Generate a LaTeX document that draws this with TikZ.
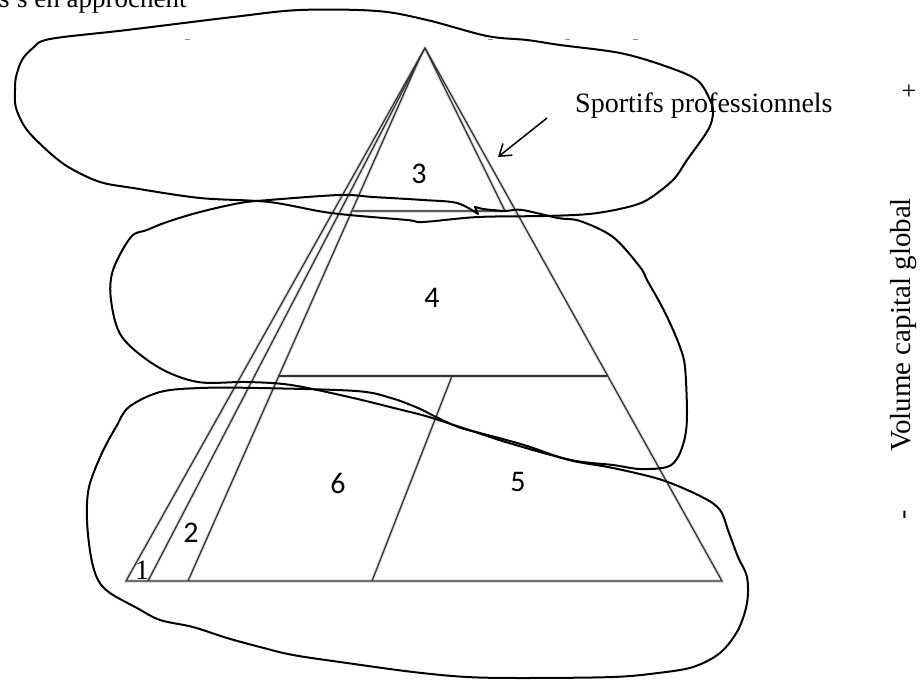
\documentclass[tikz,border=0pt]{standalone}
\usepackage{fontspec}
\setmainfont{Liberation Serif}
\newfontfamily\numfont{Carlito}
\usetikzlibrary{arrows.meta}
\begin{document}
\begin{tikzpicture}[x=1pt,y=-1pt,
  pyr/.style={draw=black!80, line width=1.3pt},
  pyrthick/.style={draw=black!65, line width=2.4pt},
  blob/.style={draw=black, line width=2pt, line join=round, line cap=round},
  shade/.style={draw=black!12, line width=3.5pt, line join=round},
  lbl/.style={inner sep=0pt, font=\numfont\fontsize{30}{32}\selectfont},
  lblserif/.style={inner sep=0pt, font=\fontsize{28}{30}\selectfont},
  tick/.style={draw=black!45, line width=1pt},
]
\useasboundingbox (0,0) rectangle (922,680);

% ---------- key points of the pyramid ----------
\coordinate (apex) at (425,48);
\coordinate (apexB) at (421,55);
\coordinate (bl) at (126,581);
\coordinate (bA) at (148,581);
\coordinate (bB) at (188,581);
\coordinate (bD) at (372,581);
\coordinate (br) at (722,581);
\coordinate (s3l) at (352,211);
\coordinate (s3r) at (505,211);
\coordinate (h4l) at (278,376);
\coordinate (h4r) at (607,376);
\coordinate (h4d) at (452,376);

% ---------- shadows ----------
\begin{scope}[shift={(1.5,2.5)}]
\draw[shade] (apex) -- (bl) -- (br) -- cycle;
\draw[shade] (apex) -- (bA);
\draw[shade] (apexB) -- (bB);
\draw[shade] (apex) -- (s3r) -- (s3l);
\draw[shade] (h4l) -- (h4r);
\draw[shade] (h4d) -- (bD);
\end{scope}

% ---------- pyramid ----------
\draw[pyr] (apex) -- (bl) -- (br) -- cycle;
\draw[pyr] (apex) -- (bA);
\draw[pyr] (apexB) -- (bB);
\draw[pyr] (apex) -- (s3r);
\draw[pyrthick] (s3l) -- (s3r);
\draw[pyr] (h4l) -- (h4r);
\draw[pyr] (h4d) -- (bD);

% ---------- hand drawn blobs ----------
% top blob
\draw[blob] plot[smooth cycle, tension=0.55] coordinates {
 (127,30) (233,17) (300,10) (377,11) (427,20) (487,36) (527,40) (560,45)
 (620,53) (665,66) (697,80) (710,100) (713,113) (708,130) (687,160) (673,180)
 (647,200) (624,208) (589,214) (544,216) (478,217) (423,222) (407,220) (331,213)
 (269,202) (200,198) (133,188) (100,182) (70,168) (50,153) (27,130) (16,108)
 (15,90) (16,77) (22,60) (33,48) (50,39)};

% middle blob
\draw[blob] plot[smooth, tension=0.55] coordinates {
 (483,209) (504,211) (522,210) (558,218) (580,221) (613,237) (640,267) (647,280)
 (660,303) (670,323) (680,347) (685,367) (687,413) (685,437) (678,457) (667,467)
 (640,469) (613,465) (571,460) (509,443) (469,430) (429,417) (402,410) (349,397)
 (291,385) (247,382) (198,382) (158,367) (122,337) (111,300) (113,270) (131,237)
 (147,230) (167,222) (200,212) (240,203) (269,200) (340,195) (373,197) (423,200)
 (457,203) (478,214)}
 -- (475,207) -- (483,209);

% lower blob
\draw[blob] plot[smooth cycle, tension=0.55] coordinates {
 (160,392) (200,388) (258,388) (356,391) (391,398) (418,408) (436,417) (458,427)
 (480,433) (524,445) (569,460) (613,468) (662,480) (702,497) (720,510) (729,533)
 (738,557) (747,577) (747,603) (738,630) (720,653) (693,667) (658,673) (613,677)
 (524,678) (467,677) (413,672) (347,663) (293,655) (260,647) (227,638) (193,627)
 (160,620) (137,608) (110,593) (98,580) (91,557) (87,520) (89,487) (102,453)
 (116,427) (129,407)};

% ---------- labels ----------
\node[lblserif] (n1) at (142,570) {1};
\node[lbl] (n2) at (191,533) {2};
\node[lbl] (n3) at (419,174) {3};
\node[lbl] (n4) at (432,298) {4};
\node[lbl] (n6) at (338,483) {6};
\node[lbl] (n5) at (518,482) {5};

% ---------- annotation ----------
\node[inner sep=0pt, anchor=base west, font=\fontsize{28}{30}\selectfont] (sp) at (575,112) {Sportifs professionnels};
\coordinate (arrS) at (547,118);
\coordinate (arrE) at (498,157);
\draw[line width=1.5pt, -{Straight Barb[length=11pt,width=15pt,line width=1.5pt]}] (arrS) -- (arrE);

% cut-off text line at the top
\node[inner sep=0pt, anchor=base west, font=\fontsize{27}{29}\selectfont] (top) at (-1,7) {s's en approchent};

% small remnants of cut-off text
\draw[tick] (185,39) -- (190,39);
\draw[tick] (488,39) -- (493,39);
\draw[tick] (565,39) -- (570,39);
\draw[tick] (633,39) -- (638,39);

% axis on the right
\node[inner sep=0pt, rotate=90, font=\fontsize{29}{31}\selectfont] (vol) at (904,325) {Volume capital global};
\node[inner sep=0pt, font=\fontsize{26}{28}\selectfont] (plus) at (909,92) {+};
\node[inner sep=0pt, rotate=90, font=\fontsize{28}{30}\selectfont] (minus) at (908,515) {-};
\end{tikzpicture}
\end{document}
